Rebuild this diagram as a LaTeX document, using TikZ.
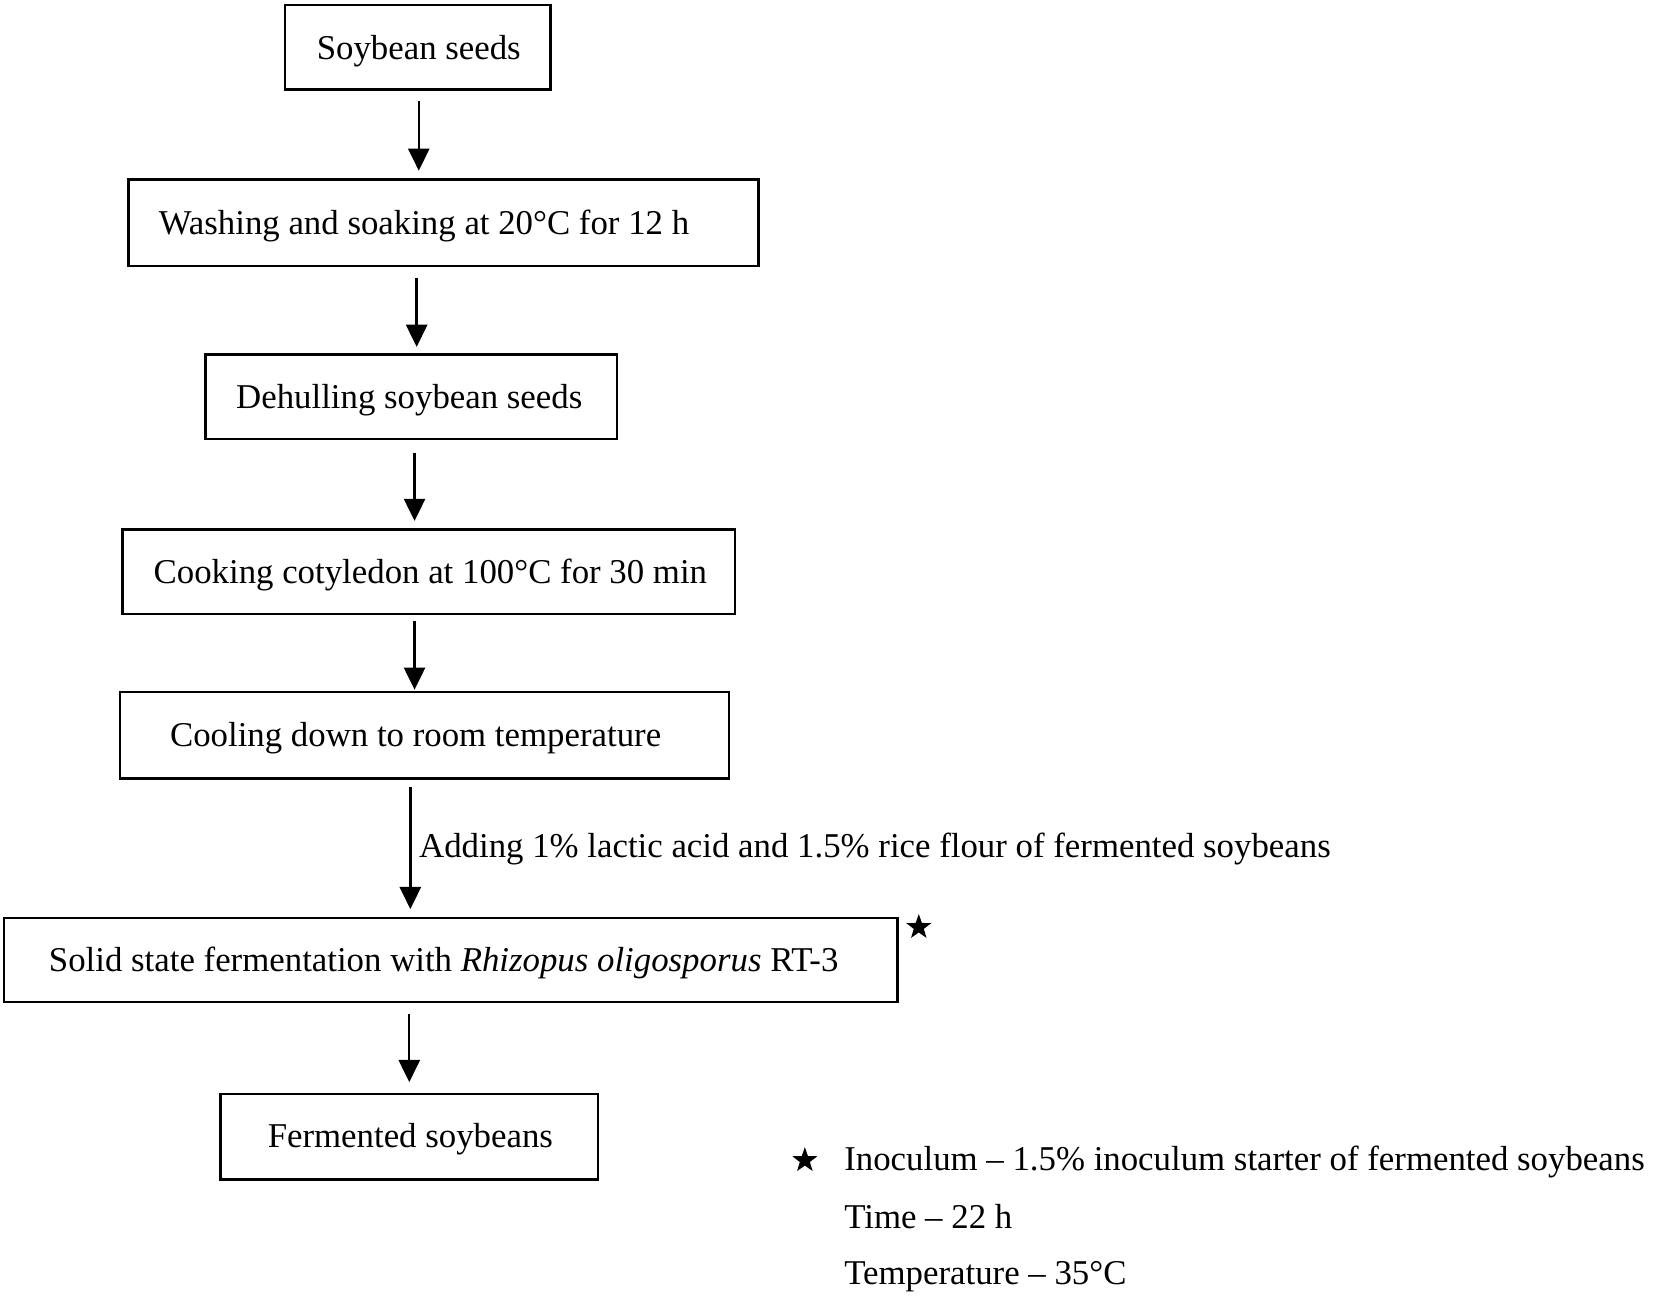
\documentclass[tikz,border=0pt]{standalone}
\usepackage{fontspec}
\setmainfont{Liberation Serif}
\usetikzlibrary{arrows.meta,shapes.geometric,calc}
\begin{document}
\begin{tikzpicture}[x=0.5pt,y=-0.5pt,
  every node/.style={font=\fontsize{16.5pt}{20pt}\selectfont},
  box/.style={draw=black, line width=1.15pt, rectangle, inner sep=0pt},
  txt/.style={anchor=base, inner sep=0pt},
  ltxt/.style={anchor=base west, inner sep=0pt},
  arr/.style={draw=black, line width=1.15pt, -{Triangle[length=10.5pt,width=10pt]}},
  starmark/.style={star, star points=5, star point ratio=2.5, fill=black, draw=none, inner sep=0pt, minimum size=12.5pt}]
\fill[white] (0,0) rectangle (1568,1230.5);
\useasboundingbox (0,0) rectangle (1568,1230.5);

% boxes
\node[box, minimum width=126pt, minimum height=40pt] (b1) at (396,45) {};
\node[box, minimum width=298.5pt, minimum height=41pt] (b2) at (420.5,211) {};
\node[box, minimum width=195pt, minimum height=40pt] (b3) at (390,376) {};
\node[box, minimum width=290.5pt, minimum height=40pt] (b4) at (406.5,542) {};
\node[box, minimum width=288.5pt, minimum height=41pt] (b5) at (402.5,697) {};
\node[box, minimum width=423.5pt, minimum height=40pt] (b6) at (427.5,910) {};
\node[box, minimum width=179pt, minimum height=40.5pt] (b7) at (388,1077.5) {};

% texts
\node[txt] (t1) at (397,56) {Soybean seeds};
\node[txt] (t2) at (402,222) {Washing and soaking at 20°C for 12 h};
\node[txt] (t3) at (388,387) {Dehulling soybean seeds};
\node[txt] (t4) at (408,553) {Cooking cotyledon at 100°C for 30 min};
\node[txt] (t5) at (394,708) {Cooling down to room temperature};
\node[ltxt] (t6) at (46,921) {Solid state fermentation with \textit{Rhizopus oligosporus} RT-3};
\node[txt] (t7) at (389,1088) {Fermented soybeans};

% arrow x positions
\coordinate (x1) at (397,0);
\coordinate (x2) at (395,0);
\coordinate (x3) at (393,0);
\coordinate (x4) at (393,0);
\coordinate (x5) at (389,0);
\coordinate (x6) at (388,0);

\draw[arr] ($(b1.south -| x1)+(0,10)$) -- ($(b2.north -| x1)+(0,-7)$);
\draw[arr] ($(b2.south -| x2)+(0,10)$) -- ($(b3.north -| x2)+(0,-6)$);
\draw[arr] ($(b3.south -| x3)+(0,12)$) -- ($(b4.north -| x3)+(0,-7)$);
\draw[arr] ($(b4.south -| x4)+(0,6)$) -- ($(b5.north -| x4)+(0,-1)$);
\draw[arr] ($(b5.south -| x5)+(0,7)$) -- ($(b6.north -| x5)+(0,-7)$);
\draw[arr] ($(b6.south -| x6)+(0,10)$) -- ($(b7.north -| x6)+(0,-10)$);

% arrow label
\node[ltxt] (lab) at (397,813) {Adding 1\% lactic acid and 1.5\% rice flour of fermented soybeans};

% star marks
\node[starmark] (s1) at (871,879) {};
\node[starmark] (s2) at (763,1100) {};

% legend
\node[ltxt] (l1) at (800,1110) {Inoculum – 1.5\% inoculum starter of fermented soybeans};
\node[ltxt] (l2) at (800,1165) {Time – 22 h};
\node[ltxt] (l3) at (800,1218) {Temperature – 35°C};
\end{tikzpicture}
\end{document}
